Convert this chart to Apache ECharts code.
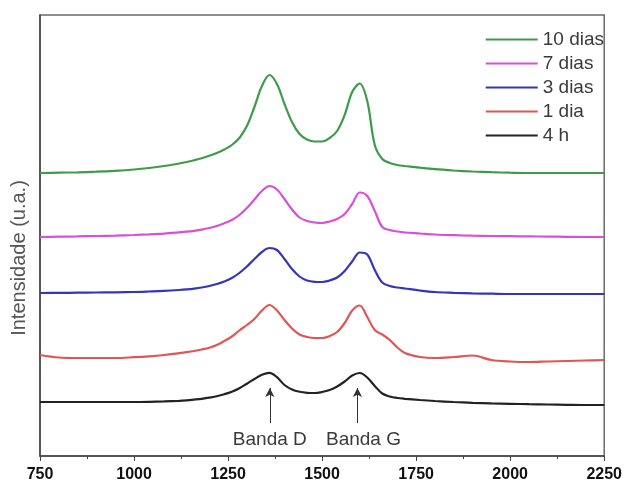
<!DOCTYPE html>
<html>
<head>
<meta charset="utf-8">
<script src="https://cdn.jsdelivr.net/npm/echarts@6/dist/echarts.min.js"></script>
<style>
  html, body { margin: 0; padding: 0; background: #fff; }
  #chart { width: 625px; height: 486px; }
</style>
</head>
<body>
<div id="chart"></div>
<script>
// Raman spectra (offset for clarity), wavenumber in cm-1, intensity in arbitrary units
const seriesNames = ['10 dias', '7 dias', '3 dias', '1 dia', '4 h'];
const seriesColors = ['#3f9a4a', '#d94fd9', '#3535bb', '#e05555', '#222222'];

// shared wavenumber grid (finer across the D and G bands)
const wavenumber = [
  750, 800, 850, 900, 950, 1000, 1040, 1080,
  1120, 1140, 1160, 1180, 1200, 1220, 1240, 1260, 1280, 1300, 1320, 1340, 1360, 1380, 1400, 1420,
  1440, 1460, 1480, 1500, 1520, 1540, 1560, 1580, 1600, 1620, 1640, 1660, 1680, 1700, 1720,
  1760, 1800, 1850, 1900, 1950, 2000, 2050, 2100, 2150, 2200, 2250
];

const int10d = [
  283, 283.3, 283.7, 284.3, 285.2, 286.5, 288, 290,
  292.5, 294, 295.8, 297.8, 300.2, 303, 306.5, 311, 318, 330, 349, 370, 381, 372, 352, 334,
  322, 316.5, 314.5, 314.5, 318, 325, 341, 364, 372.5, 355, 311, 297, 293, 291, 290,
  288.3, 286.8, 285.5, 284.5, 283.8, 283.3, 283, 283, 283, 283, 283
];
const int7d = [
  219, 219.3, 219.6, 220, 220.4, 221, 221.6, 222.4,
  223.6, 224.3, 225.2, 226.4, 228, 230, 232.7, 236, 241, 248, 256.5, 265, 270, 266.5, 257, 246.5,
  238.5, 235, 233.5, 233, 234.5, 237, 242, 252, 263.5, 260, 245, 229, 226, 224.5, 223.5,
  222.5, 221.5, 220.8, 220.3, 220, 219.8, 219.6, 219.4, 219.2, 219, 219
];
const int3d = [
  163, 163.1, 163.3, 163.5, 163.7, 164, 164.5, 165.1,
  166, 166.6, 167.4, 168.5, 170, 172, 174.5, 178, 183, 189.5, 197, 204, 208, 206, 197, 187,
  179.5, 175.5, 174.2, 174, 175.5, 178.5, 185, 194.5, 203.5, 201.5, 186, 173.5, 170, 168.5, 167.5,
  165.5, 164, 163.2, 162.6, 162.3, 162, 162, 162, 162, 162, 162
];
const int1d = [
  101, 98.5, 98, 98, 98, 98.8, 99.7, 101,
  102.8, 103.8, 105, 106.5, 108.3, 111, 115, 119.5, 125.5, 131, 137, 145.5, 151, 145.5, 136, 127.5,
  121.5, 119, 118, 118, 120, 124, 133, 145.5, 150.5, 139, 126, 121.5, 116, 108.5, 103,
  99, 98, 99, 100.5, 96, 94.5, 94, 94.5, 95, 95.5, 96
];
const int4h = [
  54, 54, 54, 54, 54, 54, 54.2, 54.6,
  55.2, 55.7, 56.4, 57.2, 58.3, 59.8, 61.8, 64.3, 67.8, 72.3, 77, 81.2, 83.2, 78.8, 71, 66.5,
  64.2, 63.2, 63, 64, 66, 69.5, 74.5, 80.5, 83, 78.5, 70, 62.5, 59.5, 58, 57.2,
  56, 55, 54, 53.2, 52.6, 52.2, 51.8, 51.5, 51.2, 51, 51
];

const xTicks = [750, 1000, 1250, 1500, 1750, 2000, 2250];

// band annotations
const bandNames = ['Banda D', 'Banda G'];
const bandPos = [1361, 1594];
const bandLabelPos = [1361, 1610];

const allInt = [int10d, int7d, int3d, int1d, int4h];

const font = '"Liberation Sans", Arial, sans-serif';

const series = seriesNames.map((name, i) => ({
  name: name,
  type: 'line',
  data: wavenumber.map((w, k) => [w, allInt[i][k]]),
  smooth: 0.35,
  symbol: 'none',
  lineStyle: { color: seriesColors[i], width: 2.2 },
  itemStyle: { color: seriesColors[i] },
  z: 3
}));

// arrows and band labels hang off the bottom spectrum
series[4].markLine = {
  silent: true,
  symbol: ['none', 'arrow'],
  symbolSize: [7, 9],
  label: { show: false },
  lineStyle: { color: '#333', width: 1, type: 'solid' },
  data: bandPos.map(p => [{ coord: [p, 33] }, { coord: [p, 68] }])
};
series[4].markPoint = {
  silent: true,
  symbol: 'circle',
  symbolSize: 0,
  label: {
    show: true,
    position: 'inside',
    formatter: '{b}',
    color: '#3a3a3a',
    fontSize: 19,
    fontFamily: font
  },
  data: bandNames.map((n, i) => ({ name: n, coord: [bandLabelPos[i], 16] }))
};

const chart = echarts.init(document.getElementById('chart'), null, { renderer: 'canvas' });
chart.setOption({
  animation: false,
  backgroundColor: '#fff',
  grid: {
    left: 40, right: 20, top: 15, bottom: 30,
    show: true, borderColor: '#6a6a6a', borderWidth: 1.5, backgroundColor: 'transparent'
  },
  legend: {
    data: seriesNames,
    orient: 'vertical',
    right: 21,
    top: 30,
    padding: 0,
    itemWidth: 52,
    itemHeight: 14,
    itemGap: 5,
    icon: 'path://M0,6 L52,6 L52,8 L0,8 Z',
    textStyle: { fontSize: 19, fontFamily: font, color: '#3a3a3a' }
  },
  xAxis: {
    type: 'value',
    min: 750,
    max: 2250,
    interval: 250,
    axisLine: { show: true, lineStyle: { color: '#444', width: 1.5 } },
    axisTick: { show: true, inside: false, length: 5, lineStyle: { color: '#444' } },
    minorTick: { show: true, splitNumber: 2, length: 3, lineStyle: { color: '#444' } },
    splitLine: { show: false },
    axisLabel: {
      margin: 11,
      fontSize: 16,
      fontWeight: 'bold',
      fontFamily: font,
      color: '#111',
      formatter: v => (xTicks.indexOf(v) >= 0 ? String(v) : '')
    }
  },
  yAxis: {
    type: 'value',
    min: 0,
    max: 441,
    axisLine: { show: true, lineStyle: { color: '#444', width: 1.5 } },
    axisTick: { show: false },
    axisLabel: { show: false },
    splitLine: { show: false }
  },
  graphic: [{
    type: 'text',
    x: 19,
    y: 258,
    rotation: Math.PI / 2,
    style: {
      text: 'Intensidade (u.a.)',
      fontSize: 20,
      fontFamily: font,
      fill: '#555',
      align: 'center',
      verticalAlign: 'middle'
    }
  }],
  series: series
});
</script>
</body>
</html>
